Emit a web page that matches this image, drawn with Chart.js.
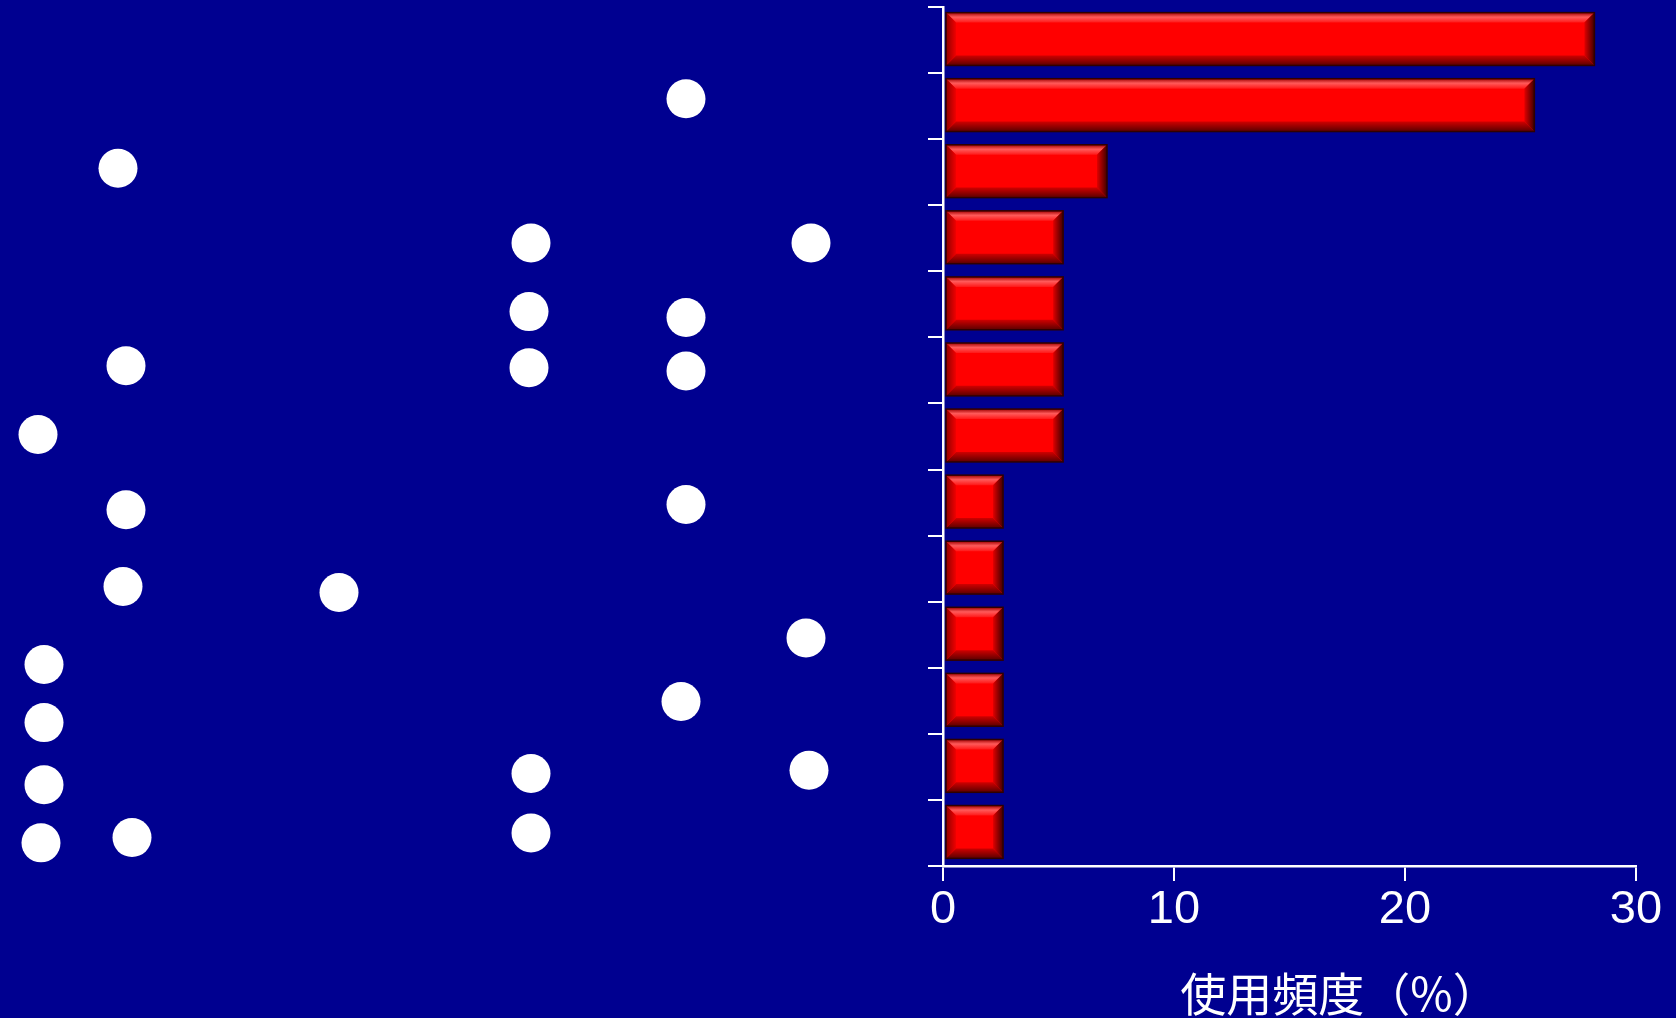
<!DOCTYPE html>
<html>
<head>
<meta charset="utf-8">
<script src="https://cdn.jsdelivr.net/npm/chart.js@4.4.1/dist/chart.umd.min.js"></script>
<style>
  html, body { margin: 0; padding: 0; background: #000090; overflow: hidden; }
  #wrap { position: relative; width: 1676px; height: 1018px; }
  #wrap canvas { position: absolute; left: 0; top: 0; }
</style>
</head>
<body>
<div id="wrap">
  <canvas id="bars" width="1676" height="1018"></canvas>
  <canvas id="dots" width="1676" height="1018"></canvas>
</div>
<script>
// categories (rows, top to bottom) - names not shown on the chart
const categories = ["1", "2", "3", "4", "5", "6", "7", "8", "9", "10", "11", "12", "13"];
// usage frequency (%)
const usage = [28.2, 25.6, 7.1, 5.2, 5.2, 5.2, 5.2, 2.6, 2.6, 2.6, 2.6, 2.6, 2.6];
const xTicks = [0, 10, 20, 30];
const axisTitle = "使用頻度（%）";

// white dots in the left panel: position across the panel, and row (0 = top row)
const dotPos = [686, 118, 531, 811, 529, 686, 126, 529, 686, 38, 126, 686,
                123, 339, 806, 44, 681, 44, 44, 531, 809, 41, 132, 531];
const dotRow = [0.89, 1.94, 3.07, 3.07, 4.11, 4.20, 4.93, 4.96, 5.01, 5.97, 7.11, 7.03,
                8.27, 8.36, 9.05, 9.45, 10.01, 10.33, 11.27, 11.10, 11.05, 12.15, 12.07, 12.00];

// red bars with a bevelled look, drawn on the bar elements' geometry
const bevelPlugin = {
    id: 'bevel',
    afterDatasetsDraw(chart) {
        const ctx = chart.ctx;
        chart.getDatasetMeta(0).data.forEach(bar => {
            const l = Math.min(bar.x, bar.base) + 2, r = Math.max(bar.x, bar.base);
            const t = bar.y - bar.height / 2 - 1, b = bar.y + bar.height / 2 - 1;
            const e = Math.min(10, (r - l) / 2, (b - t) / 2);
            ctx.save();
            ctx.fillStyle = '#ff0000';
            ctx.fillRect(l, t, r - l, b - t);
            // top
            let g = ctx.createLinearGradient(0, t, 0, t + e);
            g.addColorStop(0, '#a00000');
            g.addColorStop(0.45, '#ff5a5a');
            g.addColorStop(1, '#ff1818');
            ctx.fillStyle = g;
            ctx.beginPath();
            ctx.moveTo(l, t); ctx.lineTo(r, t); ctx.lineTo(r - e, t + e); ctx.lineTo(l + e, t + e);
            ctx.closePath(); ctx.fill();
            // bottom
            g = ctx.createLinearGradient(0, b - e, 0, b);
            g.addColorStop(0, '#d00000');
            g.addColorStop(1, '#5a0000');
            ctx.fillStyle = g;
            ctx.beginPath();
            ctx.moveTo(l, b); ctx.lineTo(r, b); ctx.lineTo(r - e, b - e); ctx.lineTo(l + e, b - e);
            ctx.closePath(); ctx.fill();
            // right
            g = ctx.createLinearGradient(r - e, 0, r, 0);
            g.addColorStop(0, '#e00000');
            g.addColorStop(1, '#400000');
            ctx.fillStyle = g;
            ctx.beginPath();
            ctx.moveTo(r, t); ctx.lineTo(r, b); ctx.lineTo(r - e, b - e); ctx.lineTo(r - e, t + e);
            ctx.closePath(); ctx.fill();
            // left
            g = ctx.createLinearGradient(l, 0, l + e, 0);
            g.addColorStop(0, '#900000');
            g.addColorStop(1, '#f00000');
            ctx.fillStyle = g;
            ctx.beginPath();
            ctx.moveTo(l, t); ctx.lineTo(l, b); ctx.lineTo(l + e, b - e); ctx.lineTo(l + e, t + e);
            ctx.closePath(); ctx.fill();
            ctx.strokeStyle = '#300000';
            ctx.lineWidth = 1.5;
            ctx.strokeRect(l, t, r - l, b - t);
            ctx.restore();
        });
    }
};

// axis title, drawn a little right of the axis centre like in the original
const titlePlugin = {
    id: 'xTitle',
    afterDraw(chart) {
        const sx = chart.scales.x;
        const ctx = chart.ctx;
        ctx.save();
        ctx.fillStyle = '#ffffff';
        ctx.font = '46px "Noto Sans CJK JP"';
        ctx.textAlign = 'center';
        ctx.textBaseline = 'middle';
        ctx.fillText(axisTitle, (sx.left + sx.right) / 2 + 50, 994);
        ctx.restore();
    }
};

new Chart(document.getElementById('bars').getContext('2d'), {
    type: 'bar',
    data: {
        labels: categories,
        datasets: [{
            data: usage,
            backgroundColor: 'rgba(0,0,0,0)',
            borderWidth: 0,
            barPercentage: 0.8,
            categoryPercentage: 1.0
        }]
    },
    options: {
        indexAxis: 'y',
        responsive: false,
        animation: false,
        layout: { padding: { left: 928, right: 40, top: 7, bottom: 0 } },
        plugins: { legend: { display: false }, tooltip: { enabled: false } },
        scales: {
            y: {
                z: 1,
                grid: { drawOnChartArea: false, drawTicks: true, tickLength: 15, color: '#ffffff', lineWidth: 2, offset: true },
                border: { color: '#ffffff', width: 2.5 },
                ticks: { display: false },
                afterFit: s => { s.width = 15; }
            },
            x: {
                min: 0,
                max: 30,
                afterBuildTicks: s => { s.ticks = xTicks.map(v => ({ value: v })); },
                grid: { drawOnChartArea: false, drawTicks: true, tickLength: 15, color: '#ffffff', lineWidth: 2 },
                border: { color: '#ffffff', width: 2.5 },
                ticks: { color: '#ffffff', font: { family: '"Liberation Sans", Arial', size: 47 }, padding: 1, maxRotation: 0 },
                afterFit: s => { s.height = 152; }
            }
        }
    },
    plugins: [bevelPlugin, titlePlugin]
});

new Chart(document.getElementById('dots').getContext('2d'), {
    type: 'scatter',
    data: {
        datasets: [{
            data: dotPos.map((p, i) => ({ x: p, y: dotRow[i] })),
            backgroundColor: '#ffffff',
            borderWidth: 0,
            pointRadius: 19.5
        }]
    },
    options: {
        responsive: false,
        animation: false,
        layout: { autoPadding: false, padding: { left: 0, right: 796, top: 7, bottom: 152 } },
        plugins: { legend: { display: false }, tooltip: { enabled: false } },
        scales: {
            x: { display: false, min: 0, max: 880 },
            y: { display: false, min: -0.5, max: 12.5, reverse: true }
        }
    }
});
</script>
</body>
</html>
